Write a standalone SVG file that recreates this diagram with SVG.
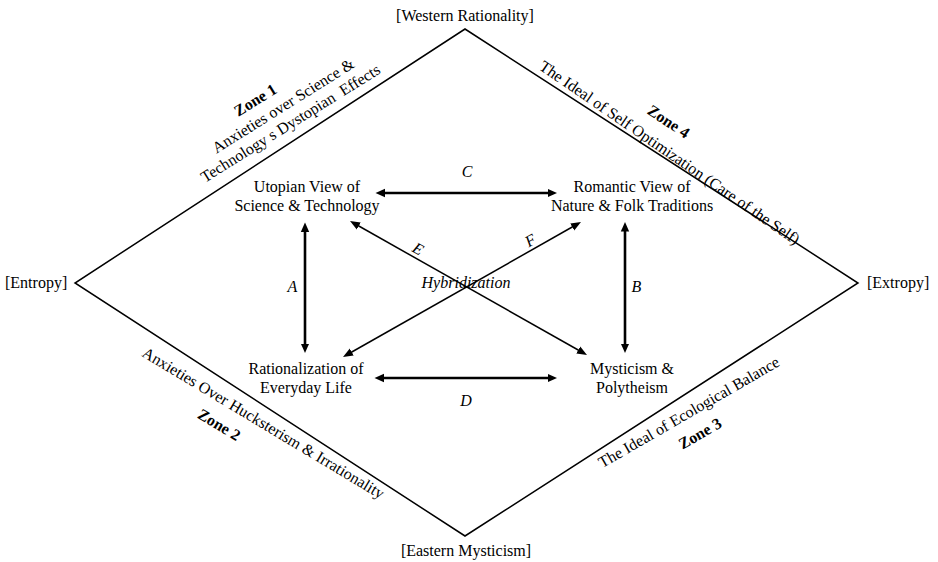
<svg xmlns="http://www.w3.org/2000/svg" width="938" height="562" viewBox="0 0 938 562">
<style>
.t{font-family:"Liberation Serif","Times New Roman",serif;font-size:16px;fill:#000}
.m{text-anchor:middle}
.b{font-weight:bold}
.i{font-style:italic}
.pre{white-space:pre}
.edge{fill:none;stroke:#000;stroke-width:1.5;stroke-linejoin:miter}
.thick{stroke:#000;stroke-width:2.6;fill:none;marker-start:url(#ah);marker-end:url(#ah)}
.thin{stroke:#000;stroke-width:1.5;fill:none;marker-start:url(#ah2);marker-end:url(#ah2)}
</style>
<defs>
<marker id="ah" viewBox="0 -5 11 10" markerUnits="userSpaceOnUse" markerWidth="11" markerHeight="10" refX="5" refY="0" orient="auto-start-reverse">
<path d="M0,-4.2 L9.5,0 L0,4.2 z" fill="#000"/>
</marker>
<marker id="ah2" viewBox="0 -5 11 10" markerUnits="userSpaceOnUse" markerWidth="11" markerHeight="10" refX="6" refY="0" orient="auto-start-reverse">
<path d="M0,-4 L10,0 L0,4 z" fill="#000"/>
</marker>
</defs>
<rect width="938" height="562" fill="#fff"/>

<g id="frame">
<polygon class="edge" points="465,29 858,283 465,536 75,283"/>
</g>

<g id="pole-top"><text class="t m" x="465" y="21">[Western Rationality]</text></g>
<g id="pole-left"><text class="t" x="5" y="288">[Entropy]</text></g>
<g id="pole-right"><text class="t" x="867" y="288">[Extropy]</text></g>
<g id="pole-bottom"><text class="t m" x="466" y="556">[Eastern Mysticism]</text></g>

<g id="zone1" transform="translate(293.3,127.7) rotate(-32)">
<text class="t m b" x="-17.6" y="-38.2">Zone 1</text>
<text class="t m" x="3.1" y="-18.7">Anxieties over Science &amp;</text>
<text class="t m pre" x="0" y="0" xml:space="preserve">Technology s Dystopian  Effects</text>
</g>

<g id="zone4">
<text class="t m" transform="translate(666.7,157) rotate(34.5)">The Ideal of Self Optimization (Care of the Self)</text>
<text class="t m b" transform="translate(665.6,126) rotate(33.5)">Zone 4</text>
</g>

<g id="zone2" transform="translate(260.7,427.6) rotate(31)">
<text class="t m" x="0" y="0">Anxieties Over Hucksterism &amp; Irrationality</text>
<text class="t m b" x="-37" y="24.3">Zone 2</text>
</g>

<g id="zone3" transform="translate(691.5,416.8) rotate(-30)">
<text class="t m" x="0" y="0">The Ideal of Ecological Balance</text>
<text class="t m b" x="-1" y="24">Zone 3</text>
</g>

<g id="utopian">
<text class="t m" x="307" y="192">Utopian View of</text>
<text class="t m" x="307" y="211">Science &amp; Technology</text>
</g>
<g id="romantic">
<text class="t m" x="632" y="192">Romantic View of</text>
<text class="t m" x="632" y="211">Nature &amp; Folk Traditions</text>
</g>
<g id="rationalization">
<text class="t m" x="306" y="374">Rationalization of</text>
<text class="t m" x="306" y="393">Everyday Life</text>
</g>
<g id="mysticism">
<text class="t m" x="632" y="374">Mysticism &amp;</text>
<text class="t m" x="632" y="393">Polytheism</text>
</g>

<g id="connectors">
<line class="thick" x1="380" y1="193" x2="552.5" y2="193"/>
<line class="thick" x1="379" y1="378" x2="552.5" y2="378"/>
<line class="thick" x1="305" y1="227" x2="305" y2="348.5"/>
<line class="thick" x1="625" y1="226.5" x2="625" y2="348.5"/>
<line class="thin" x1="353.5" y1="223" x2="583.5" y2="353"/>
<line class="thin" x1="346.5" y1="355" x2="577.5" y2="224"/>
<text class="t m i" x="467" y="177">C</text>
<text class="t m i" x="466" y="406">D</text>
<text class="t m i" x="292.5" y="292">A</text>
<text class="t m i" x="636.5" y="292">B</text>
<text class="t m i" transform="translate(415.5,253.5) rotate(29.5)">E</text>
<text class="t m i" transform="translate(533,245.2) rotate(-29.6)">F</text>
<text class="t m i" x="466" y="288">Hybridization</text>
</g>
</svg>
